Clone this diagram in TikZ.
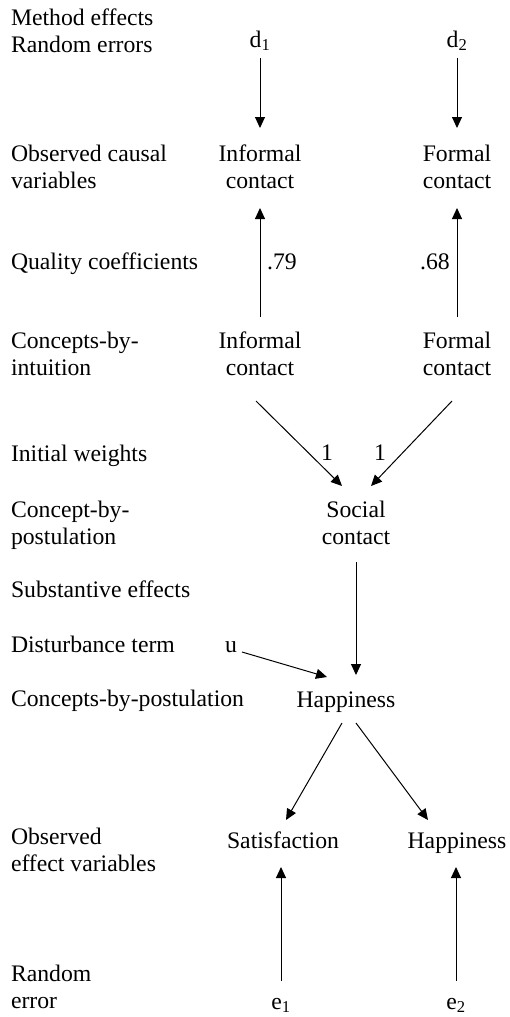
\documentclass[tikz,border=0pt]{standalone}
\usepackage{fontspec}
\setmainfont{Liberation Serif}
\usetikzlibrary{arrows.meta}

\begin{document}
\begin{tikzpicture}[x=1pt,y=-1pt,
  every node/.style={inner sep=0pt,outer sep=0pt,font=\fontsize{23.7}{27}\selectfont},
  lbl/.style={anchor=base west,align=left},
  var/.style={anchor=base,align=center},
  arr/.style={-{Triangle[length=11pt,width=10pt]},line width=1pt}]

\useasboundingbox (0,0) rectangle (509,1017);

% Level labels
\node[lbl] (l1) at (11,52) {Method effects\\Random errors};
\node[lbl] (l2) at (11,188) {Observed causal\\variables};
\node[lbl] (l3) at (11,269) {Quality coefficients};
\node[lbl] (l4) at (11,375) {Concepts-by-\\intuition};
\node[lbl] (l5) at (11,461) {Initial weights};
\node[lbl] (l6) at (11,544) {Concept-by-\\postulation};
\node[lbl] (l7) at (11,597) {Substantive effects};
\node[lbl] (l8) at (11,652) {Disturbance term};
\node[lbl] (l9) at (11,706) {Concepts-by-postulation};
\node[lbl] (l10) at (11,871) {Observed\\effect variables};
\node[lbl] (l11) at (11,1008) {Random\\error};

% Variables
\node[var] (d1) at (260,47) {d\textsubscript{1}};
\node[var] (d2) at (457,47) {d\textsubscript{2}};
\node[var] (inf1) at (260,188) {Informal\\contact};
\node[var] (for1) at (457,188) {Formal\\contact};
\node[var] (inf2) at (260,375) {Informal\\contact};
\node[var] (for2) at (457,375) {Formal\\contact};
\node[var] (soc) at (356,544) {Social\\contact};
\node[var] (u) at (231,652) {u};
\node[var] (hap) at (346,707) {Happiness};
\node[var] (sat) at (283,848) {Satisfaction};
\node[var] (hapo) at (457,848) {Happiness};
\node[var] (e1) at (281,1009) {e\textsubscript{1}};
\node[var] (e2) at (456,1009) {e\textsubscript{2}};

% Coefficients
\node[var] (q1) at (282,269) {.79};
\node[var] (q2) at (435,269) {.68};
\node[var] (w1) at (327,460) {1};
\node[var] (w2) at (380,460) {1};

% Measurement part
\draw[arr] ([yshift=-11pt]d1.base) -- ([yshift=60pt]d1.base |- inf1.base);
\draw[arr] ([yshift=-11pt]d2.base) -- ([yshift=60pt]d2.base |- for1.base);
\draw[arr] ([yshift=58pt]inf2.base) -- ([yshift=-20pt]inf2.base |- inf1.base);
\draw[arr] ([yshift=58pt]for2.base) -- ([yshift=-20pt]for2.base |- for1.base);

% Weights
\draw[arr] ([xshift=-4pt,yshift=-26pt]inf2.base) -- ([xshift=-14pt,yshift=58pt]soc.base);
\draw[arr] ([xshift=-5pt,yshift=-26pt]for2.base) -- ([xshift=15pt,yshift=58pt]soc.base);

% Substantive part
\draw[arr] ([yshift=-18pt]soc.base) -- ([yshift=32pt]soc.base |- hap.base);
\draw[arr] ([xshift=11pt]u.base) -- ([xshift=-19pt,yshift=30pt]hap.base);
\draw[arr] ([xshift=-4pt,yshift=-16pt]hap.base) -- ([xshift=3pt,yshift=28pt]sat.base);
\draw[arr] ([xshift=10pt,yshift=-16pt]hap.base) -- ([xshift=-29pt,yshift=28pt]hapo.base);

% Errors
\draw[arr] ([yshift=28pt]e1.base) -- ([yshift=-19pt]e1.base |- sat.base);
\draw[arr] ([yshift=28pt]e2.base) -- ([yshift=-19pt]e2.base |- hapo.base);

\end{tikzpicture}
\end{document}
